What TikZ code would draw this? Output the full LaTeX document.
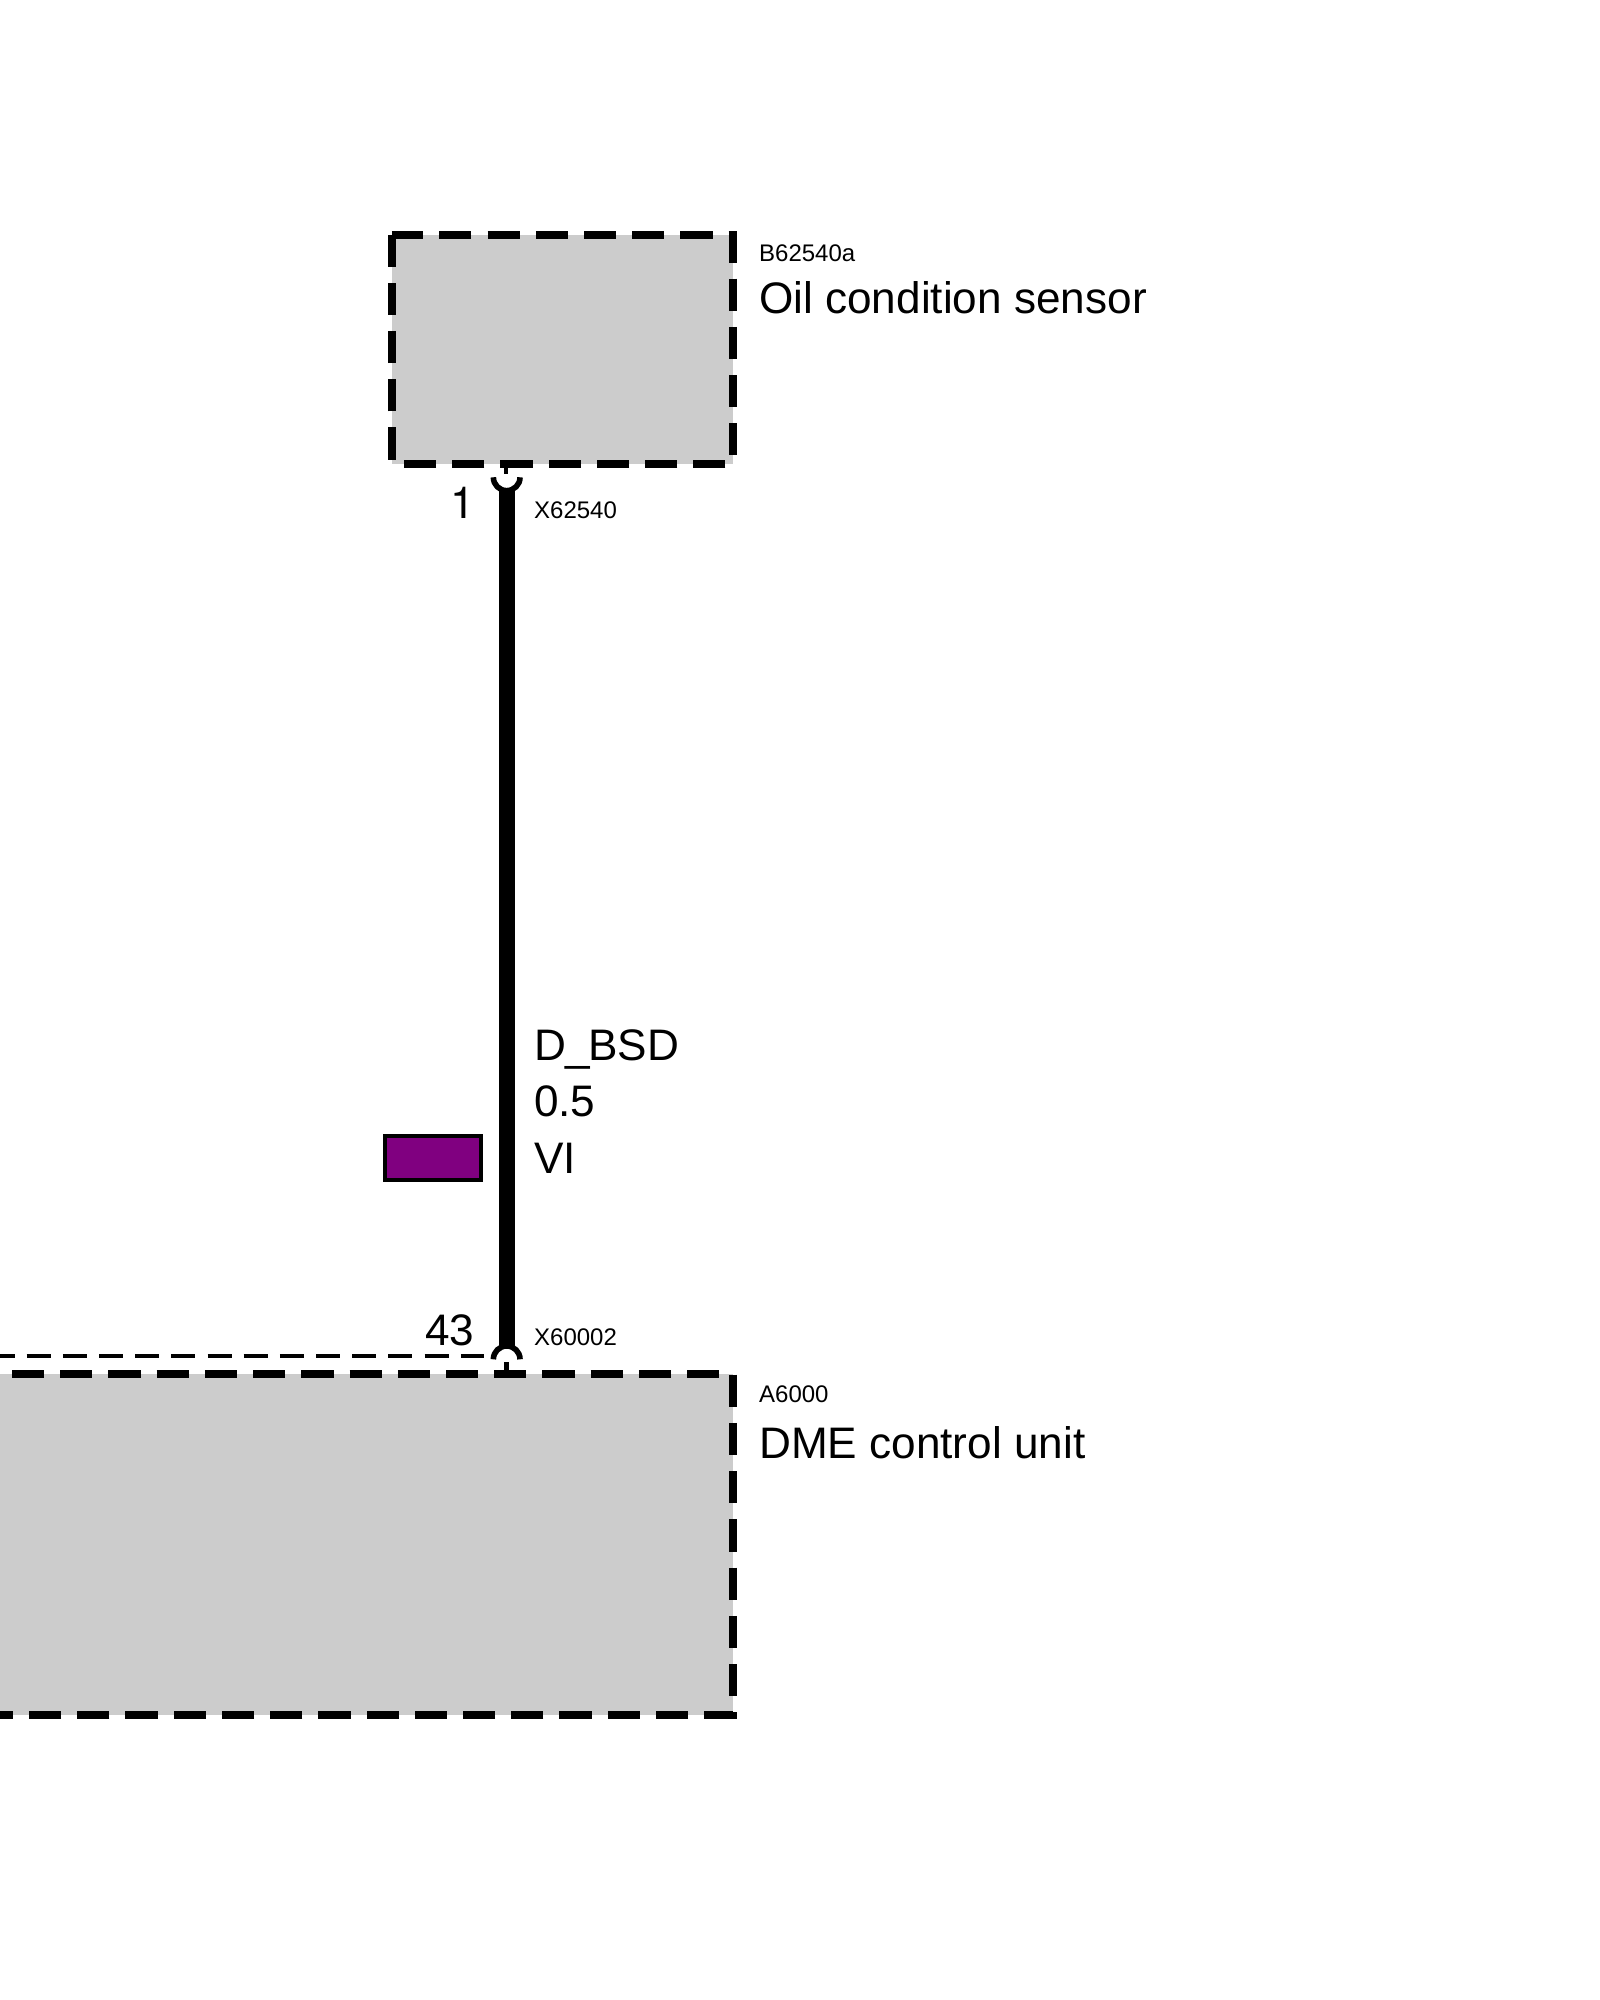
\documentclass[tikz,border=0pt]{standalone}
\usepackage{fontspec}
\setmainfont{Liberation Sans}
\newfontfamily\pinfont{TeX Gyre Heros}
\definecolor{boxgray}{HTML}{CCCCCC}
\definecolor{wirepurple}{HTML}{800080}
\newcommand{\bigtxt}{\fontsize{33.1pt}{40pt}\selectfont}
\newcommand{\smalltxt}{\fontsize{18pt}{22pt}\selectfont}
\tikzset{
  x=0.75pt, y=-0.75pt,
  boxfill/.style={fill=boxgray, draw=none, inner sep=0pt, outer sep=0pt, rectangle},
  boxedge/.style={draw=black, line width=6pt, dash pattern=on 24.11pt off 12.06pt},
  wire/.style={draw=black, line width=12pt},
  stub/.style={draw=black, line width=3.4pt},
  pincup/.style={draw=black, line width=4.2pt},
  thindash/.style={draw=black, line width=3pt, dash pattern=on 18pt off 9.13pt, dash phase=7.1pt},
  swatch/.style={fill=wirepurple, draw=black, line width=3pt, inner sep=0pt, outer sep=0pt, rectangle, minimum width=72pt, minimum height=33pt},
  big/.style={anchor=base west, inner sep=0pt, outer sep=0pt, font=\bigtxt},
  small/.style={anchor=base west, inner sep=0pt, outer sep=0pt, font=\smalltxt},
}
\begin{document}
\begin{tikzpicture}
\useasboundingbox (0,0) rectangle (1600,2000);
\fill[white] (0,0) rectangle (1600,2000);

% sensor box
\node[boxfill, minimum width=256.1pt, minimum height=171.4pt] (sensor) at (562.65,349.3) {};
\draw[boxedge, dash phase=0.6pt] (391.9,235.1) -- (733.4,235.1) -- (733.4,463.6) -- (391.9,463.6) -- cycle;

% control unit box
\node[boxfill, minimum width=550pt, minimum height=256.3pt] (dme) at (366.65,1544.4) {};
\draw[boxedge, dash phase=27.17pt] (0,1373.5) -- (733.3,1373.5);
\draw[boxedge, dash phase=35.27pt] (733.3,1373.5) -- (733.3,1715.3) -- (0,1715.3);

% pins and wire
\coordinate (pinTop) at (506.7,477.3);
\coordinate (pinBot) at (506.7,1359.3);
\coordinate (wireTop) at (506.7,488);
\coordinate (wireBot) at (506.7,1348);
\coordinate (stubTopA) at (506.2,463.6);
\coordinate (stubTopB) at (506.2,474);
\coordinate (stubBotA) at (506.4,1362);
\coordinate (stubBotB) at (506.4,1373.5);
\draw[stub] (stubTopA) -- (stubTopB);
\draw[stub] (stubBotA) -- (stubBotB);
\draw[pincup] ([xshift=-10pt]pinTop) arc[start angle=180, delta angle=180, radius=10pt];
\draw[pincup] ([xshift=-10pt]pinBot) arc[start angle=180, delta angle=-180, radius=10pt];
\draw[wire] (wireTop) -- (wireBot);

% dashed screen line
\coordinate (screenA) at (0,1356.2);
\coordinate (screenB) at (484.3,1356.2);
\draw[thindash] (screenA) -- (screenB);

% colour swatch
\node[swatch] (colour) at (433.3,1158.3) {};

% labels
\node[small] (idSensor) at (759.2,261) {B62540a};
\node[big] (nameSensor) at (759.2,313.3) {Oil condition sensor};
\node[small] (conTop) at (534.2,518.5) {X62540};
\node[big, anchor=base east] (pinOne) at (474.9,518.7) {\pinfont 1};
\node[big] (sigName) at (534,1060) {D\_\kern-1.4pt BSD};
\node[big] (sigSize) at (534,1116.5) {0.5};
\node[big] (sigColour) at (534,1173) {VI};
\node[big, anchor=base east] (pinFortyThree) at (474.3,1345) {43};
\node[small] (conBot) at (534.2,1345) {X60002};
\node[small] (idDme) at (759.2,1402) {A6000};
\node[big] (nameDme) at (759.2,1458) {DME control unit};
\end{tikzpicture}
\end{document}
